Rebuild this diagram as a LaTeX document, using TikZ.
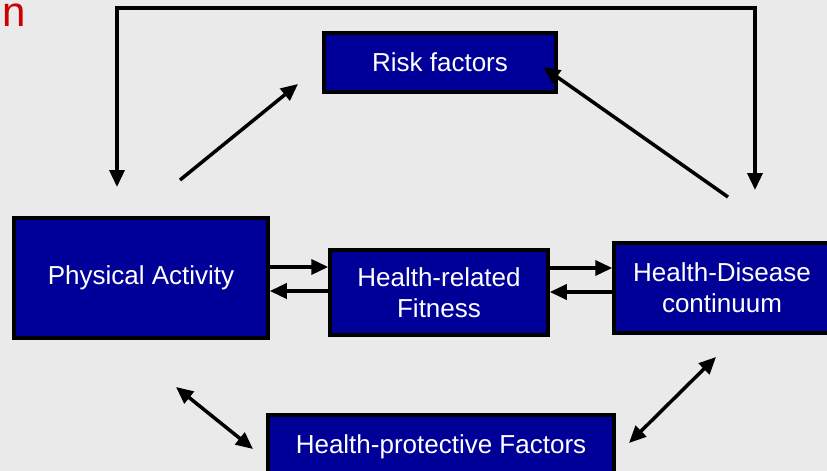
\documentclass[tikz,border=0pt]{standalone}
\usepackage{fontspec}
\setmainfont{Liberation Sans}
\usetikzlibrary{arrows.meta}
\definecolor{bg}{RGB}{234,234,234}
\definecolor{boxblue}{RGB}{0,0,153}
\definecolor{titlered}{RGB}{204,0,0}
\tikzset{
  bluebox/.style={draw=black, line width=3.5pt, fill=boxblue, text=white,
    font=\fontsize{26}{31}\selectfont, align=center, inner sep=0pt},
  arr/.style={line width=3.5pt, -{Triangle[length=17pt,width=15pt]}},
  darr/.style={line width=3.5pt, {Triangle[length=17pt,width=15pt]}-{Triangle[length=17pt,width=15pt]}}
}
\begin{document}
\begin{tikzpicture}[x=1pt,y=-1pt]
\useasboundingbox (0,0) rectangle (827,471);
\clip (0,0) rectangle (827,471);
\fill[bg] (0,0) rectangle (827,471);
\node[anchor=base west, text=titlered, font=\fontsize{42}{50}\selectfont, inner sep=0pt] (title) at (2,27) {n};
\node[bluebox, minimum width=232pt, minimum height=59pt] (rf) at (440,62.5) {Risk factors};
\node[bluebox, minimum width=254pt, minimum height=120pt] (pa) at (141,278) {Physical Activity};
\node[bluebox, minimum width=218pt, minimum height=85pt] (hrf) at (439,292.5) {Health-related\\Fitness};
\node[bluebox, minimum width=216pt, minimum height=90pt] (hdc) at (722,288) {Health-Disease\\continuum};
\node[bluebox, minimum width=346pt, minimum height=64pt] (hpf) at (441,447) {Health-protective Factors};
% top frame
\coordinate (fl) at (117,187);
\coordinate (fr) at (755,190);
\draw[darr, line join=miter] (fl) -- (117,8) -- (755,8) -- (fr);
% diagonals
\coordinate (pa1) at (180,180);
\coordinate (rf1) at (298,84);
\draw[arr] (pa1) -- (rf1);
\coordinate (hd1) at (728,197);
\coordinate (rf2) at (543,67);
\draw[arr] (hd1) -- (rf2);
% horizontal pairs
\draw[arr] ([yshift=11pt]pa.east) -- ([yshift=11pt]pa.east -| hrf.west);
\draw[arr] ([yshift=-13pt]pa.east -| hrf.west) -- ([yshift=-13pt]pa.east);
\draw[arr] ([yshift=24.5pt]hrf.east) -- ([yshift=24.5pt]hrf.east -| hdc.west);
\draw[arr] ([yshift=0.5pt]hrf.east -| hdc.west) -- ([yshift=0.5pt]hrf.east);
% double arrows
\coordinate (d1a) at (176,387);
\coordinate (d1b) at (253,449);
\draw[darr] (d1a) -- (d1b);
\coordinate (d2a) at (716,357);
\coordinate (d2b) at (629,443);
\draw[darr] (d2a) -- (d2b);
\end{tikzpicture}
\end{document}
